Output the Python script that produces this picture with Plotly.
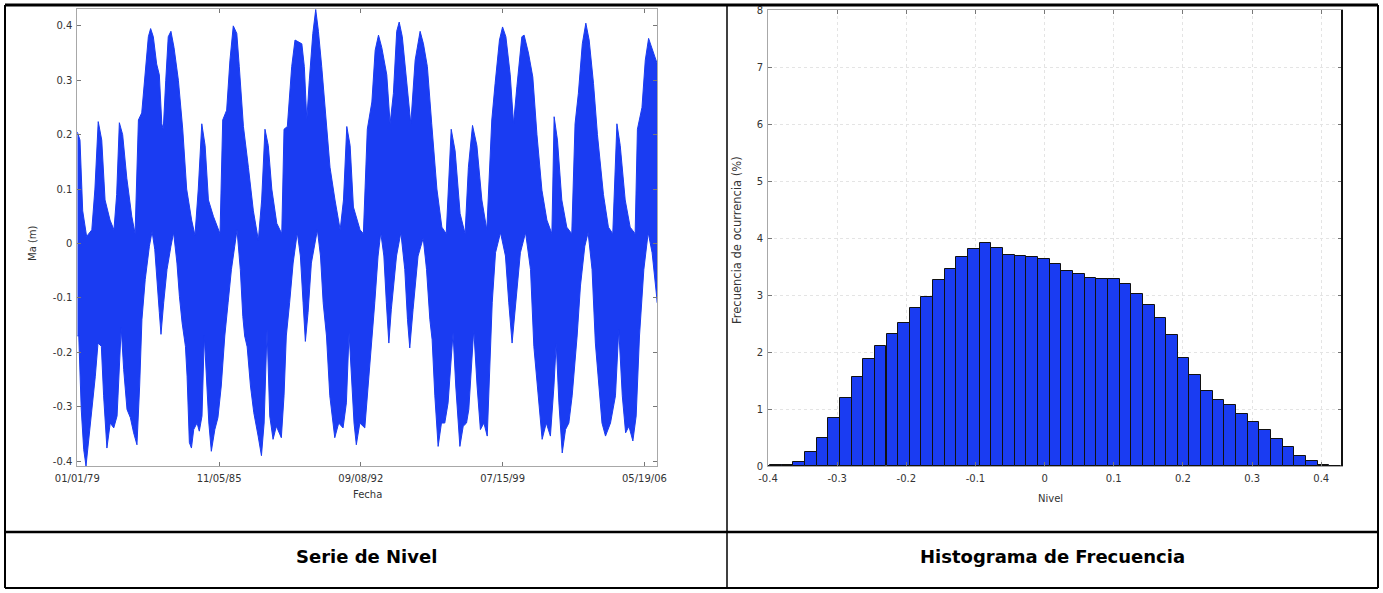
import pandas as pd
import plotly.graph_objects as go

W, H = 1383, 593

# ---- Serie de nivel: upper / lower envelope of the hourly level record ----
up_year = [1979.00, 1979.13, 1979.26, 1979.45, 1979.70, 1979.85, 1980.01, 1980.18, 1980.34, 1980.58,
           1980.77, 1980.90, 1981.03, 1981.19, 1981.39, 1981.63, 1981.79, 1981.95, 1982.11, 1982.27,
           1982.43, 1982.54, 1982.67, 1982.83, 1982.96, 1983.08, 1983.15, 1983.27, 1983.39, 1983.52,
           1983.67, 1983.88, 1984.09, 1984.28, 1984.52, 1984.68, 1984.84, 1985.01, 1985.17, 1985.33,
           1985.57, 1985.89, 1986.02, 1986.21, 1986.37, 1986.53, 1986.70, 1986.82, 1987.02, 1987.26,
           1987.50, 1987.74, 1987.90, 1988.06, 1988.22, 1988.39, 1988.63, 1988.87, 1988.98, 1989.14,
           1989.35, 1989.51, 1989.67, 1989.84, 1989.96, 1990.08, 1990.20, 1990.37, 1990.51, 1990.64,
           1990.80, 1990.96, 1991.20, 1991.44, 1991.69, 1991.85, 1992.01, 1992.17, 1992.33, 1992.65,
           1992.81, 1993.00, 1993.22, 1993.38, 1993.54, 1993.70, 1993.94, 1994.10, 1994.26, 1994.42,
           1994.54, 1994.69, 1994.91, 1995.10, 1995.31, 1995.55, 1995.71, 1995.90, 1996.11, 1996.36,
           1996.60, 1996.81, 1997.05, 1997.24, 1997.48, 1997.72, 1997.88, 1998.08, 1998.29, 1998.53,
           1998.77, 1999.01, 1999.17, 1999.38, 1999.53, 1999.69, 1999.90, 2000.06, 2000.22, 2000.46,
           2000.57, 2000.78, 2000.99, 2001.19, 2001.43, 2001.67, 2001.91, 2002.02, 2002.18, 2002.39,
           2002.63, 2002.87, 2003.03, 2003.19, 2003.38, 2003.55, 2003.71, 2003.92, 2004.11, 2004.40,
           2004.64, 2004.85, 2005.05, 2005.21, 2005.45, 2005.69, 2005.93, 2006.04, 2006.26, 2006.42,
           2006.58, 2006.74, 2006.90, 2007.00]
up_level = [0.205, 0.19, 0.06, 0.013, 0.025, 0.10, 0.224, 0.19, 0.08, 0.043,
            0.025, 0.09, 0.222, 0.20, 0.12, 0.05, 0.018, 0.227, 0.24, 0.31,
            0.38, 0.395, 0.38, 0.33, 0.31, 0.22, 0.21, 0.30, 0.38, 0.39,
            0.36, 0.30, 0.21, 0.10, 0.043, 0.015, 0.10, 0.22, 0.18, 0.08,
            0.05, 0.018, 0.227, 0.245, 0.337, 0.40, 0.386, 0.325, 0.215, 0.14,
            0.06, 0.006, 0.08, 0.21, 0.18, 0.10, 0.037, 0.018, 0.21, 0.215,
            0.325, 0.374, 0.37, 0.367, 0.325, 0.227, 0.30, 0.386, 0.43, 0.39,
            0.325, 0.245, 0.14, 0.08, 0.025, 0.08, 0.215, 0.18, 0.067, 0.025,
            0.018, 0.21, 0.26, 0.355, 0.383, 0.36, 0.31, 0.22, 0.276, 0.39,
            0.407, 0.38, 0.30, 0.22, 0.337, 0.39, 0.367, 0.325, 0.22, 0.10,
            0.03, 0.018, 0.21, 0.17, 0.055, 0.018, 0.14, 0.217, 0.18, 0.08,
            0.025, 0.227, 0.294, 0.374, 0.398, 0.38, 0.31, 0.22, 0.288, 0.38,
            0.383, 0.35, 0.306, 0.20, 0.098, 0.043, 0.018, 0.233, 0.19, 0.08,
            0.03, 0.018, 0.22, 0.276, 0.367, 0.405, 0.374, 0.294, 0.20, 0.09,
            0.03, 0.018, 0.22, 0.18, 0.08, 0.03, 0.018, 0.21, 0.25, 0.337,
            0.377, 0.36, 0.34, 0.33]

lo_year = [1979.00, 1979.07, 1979.19, 1979.31, 1979.42, 1979.55, 1979.71, 1979.87, 1980.00, 1980.16,
           1980.27, 1980.43, 1980.59, 1980.76, 1980.92, 1981.12, 1981.24, 1981.40, 1981.56, 1981.72,
           1981.88, 1982.01, 1982.12, 1982.28, 1982.48, 1982.61, 1982.74, 1982.85, 1982.96, 1983.04,
           1983.17, 1983.33, 1983.52, 1983.65, 1983.81, 1983.93, 1984.06, 1984.22, 1984.30, 1984.41,
           1984.51, 1984.62, 1984.78, 1984.89, 1985.02, 1985.13, 1985.23, 1985.35, 1985.47, 1985.64,
           1985.79, 1985.95, 1986.12, 1986.28, 1986.44, 1986.60, 1986.71, 1986.87, 1986.99, 1987.08,
           1987.20, 1987.36, 1987.52, 1987.73, 1987.89, 1988.02, 1988.16, 1988.29, 1988.45, 1988.61,
           1988.85, 1988.98, 1989.09, 1989.25, 1989.42, 1989.62, 1989.77, 1989.90, 1990.01, 1990.14,
           1990.30, 1990.59, 1990.74, 1990.87, 1991.03, 1991.19, 1991.43, 1991.62, 1991.83, 1991.99,
           1992.12, 1992.23, 1992.36, 1992.47, 1992.64, 1992.88, 1993.04, 1993.20, 1993.36, 1993.52,
           1993.65, 1993.80, 1993.92, 1994.04, 1994.16, 1994.41, 1994.62, 1994.81, 1994.94, 1995.05,
           1995.21, 1995.45, 1995.70, 1995.86, 1996.02, 1996.13, 1996.26, 1996.42, 1996.58, 1996.74,
           1996.90, 1997.14, 1997.27, 1997.47, 1997.63, 1997.79, 1997.90, 1998.14, 1998.30, 1998.46,
           1998.63, 1998.79, 1998.90, 1999.03, 1999.19, 1999.43, 1999.67, 1999.83, 1999.99, 2000.15,
           2000.39, 2000.64, 2000.88, 2001.04, 2001.20, 2001.44, 2001.64, 2001.84, 2002.01, 2002.12,
           2002.25, 2002.41, 2002.57, 2002.73, 2002.89, 2003.13, 2003.29, 2003.50, 2003.66, 2003.85,
           2004.01, 2004.17, 2004.33, 2004.50, 2004.74, 2004.98, 2005.14, 2005.31, 2005.47, 2005.63,
           2005.82, 2005.98, 2006.14, 2006.35, 2006.56, 2006.75, 2006.91, 2007.00]
lo_level = [-0.17, -0.17, -0.305, -0.379, -0.409, -0.354, -0.299, -0.244, -0.183, -0.189,
            -0.28, -0.376, -0.33, -0.339, -0.317, -0.155, -0.232, -0.305, -0.32, -0.348,
            -0.37, -0.262, -0.14, -0.066, -0.005, 0.022, -0.011, -0.06, -0.127, -0.167,
            -0.109, -0.048, -0.005, 0.02, -0.036, -0.097, -0.146, -0.189, -0.244, -0.366,
            -0.376, -0.342, -0.33, -0.345, -0.317, -0.17, -0.25, -0.33, -0.382, -0.342,
            -0.32, -0.262, -0.17, -0.109, -0.048, -0.005, 0.025, -0.048, -0.134, -0.17,
            -0.19, -0.262, -0.311, -0.354, -0.39, -0.33, -0.158, -0.317, -0.36, -0.336,
            -0.357, -0.28, -0.17, -0.109, -0.036, 0.02, -0.023, -0.109, -0.18, -0.127,
            -0.036, 0.025, -0.023, -0.109, -0.17, -0.28, -0.357, -0.33, -0.339, -0.293,
            -0.164, -0.244, -0.33, -0.37, -0.33, -0.339, -0.262, -0.183, -0.109, -0.023,
            0.02, -0.023, -0.109, -0.183, -0.121, -0.023, 0.02, -0.048, -0.14, -0.192,
            -0.121, -0.023, 0.01, -0.048, -0.14, -0.177, -0.28, -0.373, -0.33, -0.33,
            -0.293, -0.164, -0.262, -0.373, -0.336, -0.33, -0.305, -0.158, -0.262, -0.342,
            -0.33, -0.354, -0.232, -0.109, -0.017, 0.02, -0.023, -0.109, -0.183, -0.109,
            -0.017, 0.02, -0.048, -0.189, -0.262, -0.36, -0.33, -0.354, -0.262, -0.183,
            -0.293, -0.385, -0.342, -0.33, -0.28, -0.17, -0.078, -0.005, 0.02, -0.048,
            -0.183, -0.262, -0.33, -0.354, -0.33, -0.28, -0.158, -0.28, -0.348, -0.336,
            -0.363, -0.317, -0.17, -0.048, 0.02, -0.017, -0.078, -0.109]

date_ticks = ["1979-01-01", "1985-11-05", "1992-09-08", "1999-07-15", "2006-05-19"]
date_labels = ["01/01/79", "11/05/85", "09/08/92", "07/15/99", "05/19/06"]
level_ticks = [-0.4, -0.3, -0.2, -0.1, 0, 0.1, 0.2, 0.3, 0.4]
level_labels = ["-0.4", "-0.3", "-0.2", "-0.1", "0", "0.1", "0.2", "0.3", "0.4"]

# ---- Histograma de frecuencia (50 bins, % of records) ----
bin_center = [-0.4056, -0.3887, -0.3719, -0.3550, -0.3382, -0.3213, -0.3045, -0.2876, -0.2708, -0.2539,
              -0.2371, -0.2202, -0.2034, -0.1865, -0.1697, -0.1528, -0.1360, -0.1191, -0.1023, -0.0854,
              -0.0686, -0.0517, -0.0349, -0.0180, -0.0012, 0.0157, 0.0325, 0.0494, 0.0662, 0.0831,
              0.0999, 0.1168, 0.1336, 0.1505, 0.1673, 0.1842, 0.2010, 0.2179, 0.2347, 0.2516,
              0.2684, 0.2853, 0.3021, 0.3190, 0.3358, 0.3527, 0.3695, 0.3864, 0.4032, 0.4201]
bin_freq = [0.005, 0.01, 0.02, 0.07, 0.25, 0.50, 0.84, 1.19, 1.57, 1.88,
            2.10, 2.31, 2.51, 2.78, 2.96, 3.26, 3.46, 3.67, 3.80, 3.92,
            3.83, 3.71, 3.68, 3.66, 3.64, 3.54, 3.42, 3.36, 3.29, 3.28,
            3.28, 3.20, 3.02, 2.83, 2.60, 2.29, 1.90, 1.59, 1.32, 1.16,
            1.07, 0.91, 0.78, 0.63, 0.48, 0.34, 0.18, 0.08, 0.02, 0.005]
bin_width = 0.01685
freq_ticks = [0, 1, 2, 3, 4, 5, 6, 7, 8]
nivel_ticks = [-0.4, -0.3, -0.2, -0.1, 0, 0.1, 0.2, 0.3, 0.4]
nivel_labels = ["-0.4", "-0.3", "-0.2", "-0.1", "0", "0.1", "0.2", "0.3", "0.4"]

BLUE = "#1a3cf2"
AXIS_GREY = "#a8a8a8"
SMALL = "DejaVu Sans, Verdana, sans-serif"
TICK_FONT = dict(family=SMALL, size=10, color="#333333")


def to_dates(years):
    start = pd.Timestamp("1979-01-01")
    return [start + pd.Timedelta(days=(y - 1979.0) * 365.25) for y in years]


def px(x):
    return x / W


def py(y):
    return 1 - y / H


band_x = to_dates(up_year) + to_dates(lo_year)[::-1]
band_y = up_level + lo_level[::-1]

fig = go.Figure()
fig.add_trace(go.Scatter(
    x=band_x, y=band_y, mode="lines", fill="toself",
    fillcolor=BLUE, line=dict(color=BLUE, width=1),
    xaxis="x", yaxis="y", showlegend=False, hoverinfo="skip"))

fig.add_trace(go.Bar(
    x=bin_center, y=bin_freq, width=[bin_width] * len(bin_center),
    marker=dict(color=BLUE, line=dict(color="#111111", width=1)),
    xaxis="x2", yaxis="y2", showlegend=False))

common = dict(ticks="inside", ticklen=4, tickcolor="#777777", showline=True,
              linecolor=AXIS_GREY, linewidth=1, mirror="ticks", zeroline=False,
              tickfont=TICK_FONT, automargin=False)

fig.update_layout(
    width=W, height=H, autosize=False, template="none",
    margin=dict(l=0, r=0, t=0, b=0, pad=0, autoexpand=False),
    paper_bgcolor="white", plot_bgcolor="white",
    bargap=0, showlegend=False,
    xaxis=dict(domain=[px(77.3), px(657.3)], anchor="y", type="date",
               range=["1979-01-01", "2007-01-01"], ticklabelstandoff=3,
               tickvals=date_ticks, ticktext=date_labels, showgrid=False, **common),
    yaxis=dict(domain=[py(466), py(9)], anchor="x", range=[-0.409, 0.431],
               ticklabelstandoff=2,
               tickvals=level_ticks, ticktext=level_labels, showgrid=False, **common),
    xaxis2=dict(domain=[px(768), px(1342)], anchor="y2", range=[-0.4, 0.43],
                tickvals=nivel_ticks, ticktext=nivel_labels, ticklabelstandoff=3,
                showgrid=True, gridcolor="#e4e4e4", griddash="dot", gridwidth=1, **common),
    yaxis2=dict(domain=[py(466), py(10)], anchor="x2", range=[0, 8],
                tickvals=freq_ticks, showgrid=True, gridcolor="#e4e4e4", ticklabelstandoff=2,
                griddash="dot", gridwidth=1, **common),
)

ann_font = dict(family=SMALL, size=10, color="#333333")
cap_font = dict(family="DejaVu Sans, Verdana, sans-serif", size=18, color="#000000")
annotations = [
    dict(text="Ma (m)", x=px(33), y=py(243), textangle=-90, font=ann_font),
    dict(text="Fecha", x=px(367), y=py(494), font=ann_font),
    dict(text="Frecuencia de ocurrencia (%)", x=px(737), y=py(240), textangle=-90,
         font=dict(family=SMALL, size=11.5, color="#333333")),
    dict(text="Nivel", x=px(1050), y=py(498), font=ann_font),
    dict(text="<b>Serie de Nivel</b>", x=px(366), y=py(556), font=cap_font),
    dict(text="<b>Histograma de Frecuencia</b>", x=px(1052), y=py(556), font=cap_font),
]
for a in annotations:
    a.update(xref="paper", yref="paper", showarrow=False, xanchor="center", yanchor="middle")
fig.update_layout(annotations=annotations)

# table frame around the two panels and their captions
frame = [
    (5, 5, 1378, 5, 3), (5, 588, 1378, 588, 2),
    (5, 5, 5, 588, 2), (1378, 5, 1378, 588, 2),
    (727, 5, 727, 588, 1.5), (5, 532, 1378, 532, 2.5),
]
shapes = [dict(type="line", xref="paper", yref="paper",
               x0=px(x0), y0=py(y0), x1=px(x1), y1=py(y1),
               line=dict(color="black", width=w)) for x0, y0, x1, y1, w in frame]
# dark right edge of the histogram box
shapes.append(dict(type="line", xref="x2 domain", yref="y2 domain",
                   x0=1, x1=1, y0=0, y1=1, line=dict(color="#111111", width=2)))
fig.update_layout(shapes=shapes)

fig.write_html("out.html")
